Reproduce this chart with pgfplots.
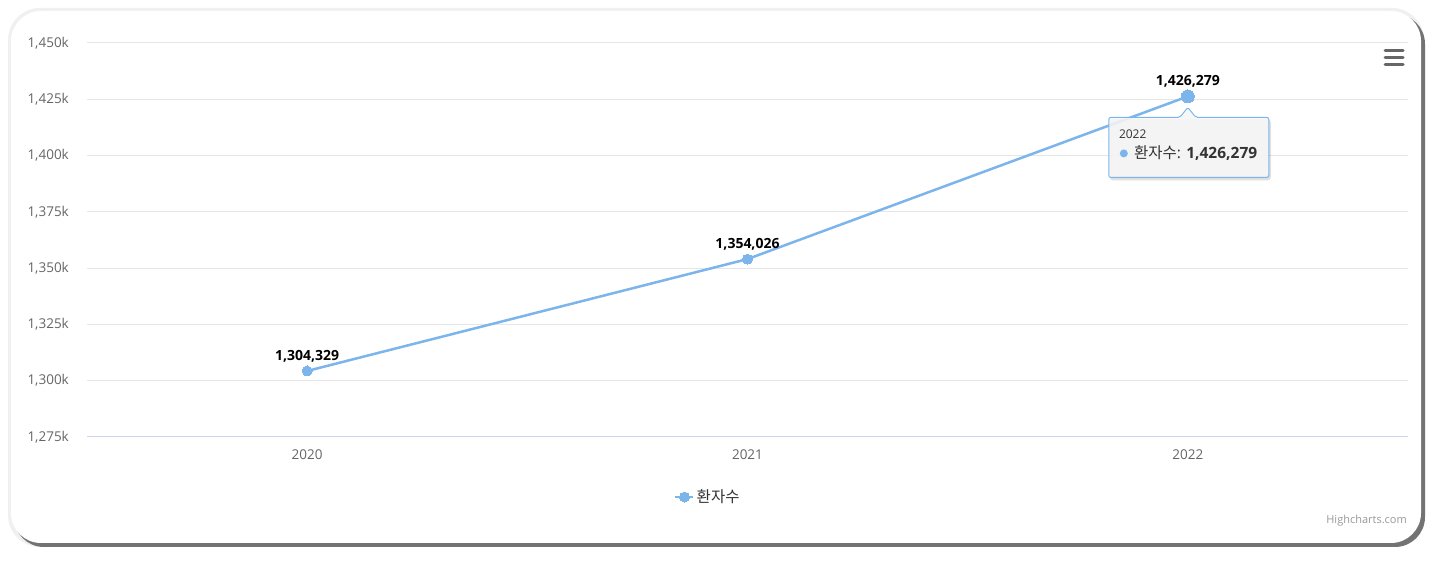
\documentclass[border=0pt]{standalone}
\usepackage{pgfplots}
\pgfplotsset{compat=1.18}
\usepackage{pgfplotstable}
\usepackage{fontspec}
\setmainfont{Open Sans}
\newfontfamily\kr{Noto Sans CJK KR}

\definecolor{hcblue}{HTML}{7CB5EC}
\definecolor{ticktext}{HTML}{666666}
\definecolor{gridc}{HTML}{E6E6E6}
\definecolor{axisc}{HTML}{CCD6EB}
\definecolor{credit}{HTML}{999999}
\definecolor{tipfill}{HTML}{F7F7F7}
\definecolor{tiptext}{HTML}{333333}

% patients per year
\pgfplotstableread{
x y label
0 1304329 1,304,329
1 1354026 1,354,026
2 1426279 1,426,279
}\patients

\begin{document}
\begin{tikzpicture}[x=1pt,y=1pt]
  \useasboundingbox (0,0) rectangle (1440,562);

  % card with shadow
  \fill[black!6, rounded corners=32pt] (8,15) rectangle (1424,554);
  \fill[black!55, rounded corners=30pt] (14,15) rectangle (1425,548);
  \fill[white, rounded corners=30pt] (11,19) rectangle (1421,551);

  \begin{axis}[
      at={(87pt,125pt)}, anchor=south west,
      scale only axis,
      width=1321pt, height=394pt,
      xmin=-0.5, xmax=2.5,
      ymin=1275000, ymax=1450000,
      xtick={0,1,2},
      xticklabels={2020,2021,2022},
      ytick={1275000,1300000,1325000,1350000,1375000,1400000,1425000,1450000},
      yticklabels={{1,275k},{1,300k},{1,325k},{1,350k},{1,375k},{1,400k},{1,425k},{1,450k}},
      scaled y ticks=false,
      ymajorgrids=true,
      grid style={gridc, line width=1pt},
      major tick length=0pt,
      axis line style={draw=none},
      tick label style={font=\fontsize{13.5}{16}\selectfont, text=ticktext},
      yticklabel style={inner sep=0pt, xshift=-18pt},
      xticklabel style={inner sep=0pt, yshift=-13pt},
      clip=false,
      nodes near coords style={anchor=center, yshift=15pt, inner sep=0pt,
        font=\fontsize{14}{16}\selectfont\bfseries, text=black},
      legend style={draw=none, fill=none, inner sep=0pt,
        at={(rel axis cs:0.4444,-0.1523)}, anchor=west,
        font=\fontsize{15.5}{18}\selectfont\kr, text=tiptext},
      legend cell align=left,
      legend image code/.code={
        \draw[#1, mark repeat=2, mark phase=2]
          plot coordinates {(0pt,0pt) (9pt,0pt) (18pt,0pt)};
      },
    ]

    \draw[axisc, line width=1pt] (rel axis cs:0,0) -- (rel axis cs:1,0);

    \addplot[
      hcblue, line width=2.5pt,
      mark=*, mark size=5pt, mark options={line width=0pt},
      nodes near coords, point meta=explicit symbolic,
    ] table[x=x, y=y, meta=label] {\patients};

    % hovered point
    \addplot[hcblue, only marks, mark=*, mark size=6.5pt,
      mark options={line width=0pt}, forget plot]
      coordinates {(2,1426279)};

    \coordinate (P) at (axis cs:2,1426279);

    \legend{환자수}
  \end{axis}

  % tooltip
  \begin{scope}[shift={(P)}]
    \fill[black, opacity=0.12, rounded corners=3pt]
      (-78,-23) rectangle (83,-84);
    \filldraw[fill=tipfill, fill opacity=0.88, draw=hcblue, line width=1pt,
      rounded corners=2pt]
      (-79,-21) -- (-8,-21) -- (0,-11) -- (8,-21) -- (81,-21)
      -- (81,-81) -- (-79,-81) -- cycle;
    \node[anchor=west, inner sep=0pt, text=tiptext,
      font=\fontsize{12}{14}\selectfont] at (-69,-38) {2022};
    \fill[hcblue] (-64,-57) circle (4);
    \node[anchor=west, inner sep=0pt, text=tiptext,
      font=\fontsize{15.5}{18}\selectfont] at (-54,-57)
      {{\kr 환자수}: \textbf{1,426,279}};
  \end{scope}

  % menu icon
  \draw[ticktext, line width=3pt, line cap=round]
    (1385,511) -- (1403,511)
    (1385,504) -- (1403,504)
    (1385,497) -- (1403,497);

  % credits
  \node[anchor=east, inner sep=0pt, text=credit,
    font=\fontsize{11}{13}\selectfont] at (1407,41) {Highcharts.com};
\end{tikzpicture}
\end{document}
